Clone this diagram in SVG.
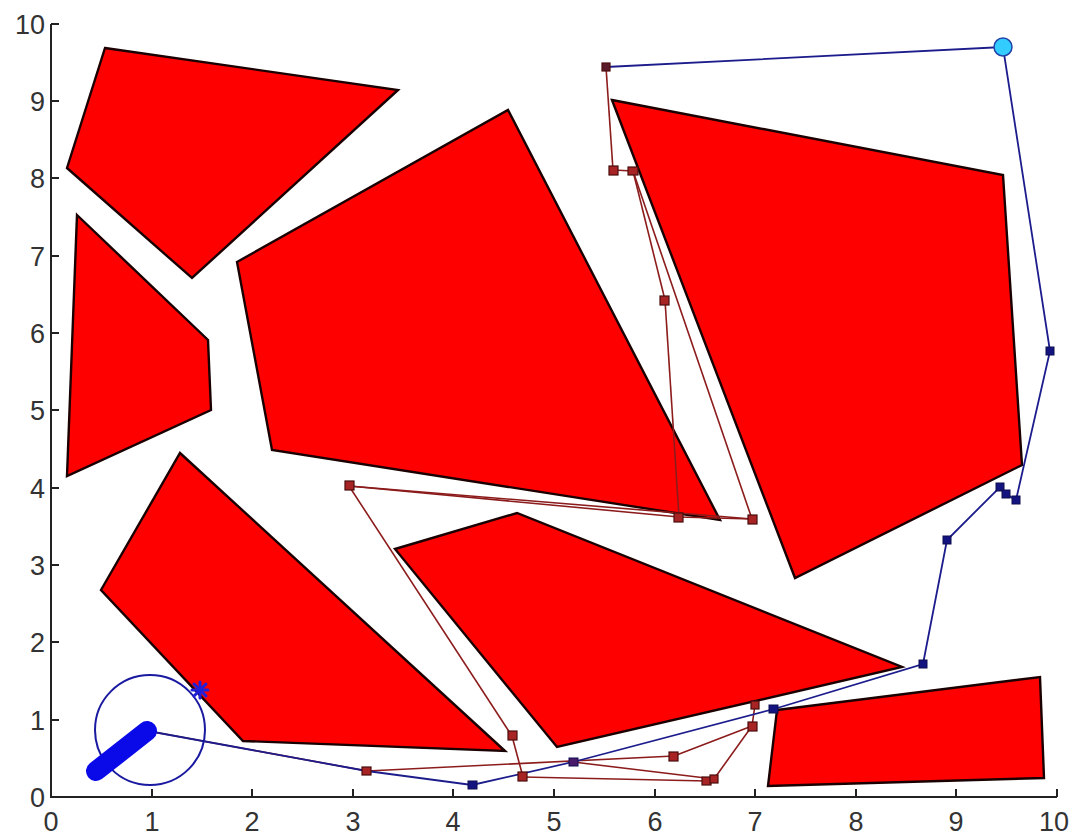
<svg xmlns="http://www.w3.org/2000/svg" width="1081" height="836" viewBox="0 0 1081 836">
<style>
.obs{fill:#ff0000;stroke:#1a0000;stroke-width:2.4;stroke-linejoin:miter}
.ax{stroke:#222;stroke-width:2;fill:none}
.tk{stroke:#222;stroke-width:2}
.lbl{font-family:"Liberation Sans",Arial,sans-serif;font-size:27px;fill:#333}
.red{stroke:#8c1c1c;stroke-width:1.6;fill:none}
.blue{stroke:#1c1c8c;stroke-width:1.8;fill:none}
.rn{fill:#a82424;stroke:#4a0c0c;stroke-width:1.2}
.bn{fill:#141480;stroke:#0c0c50;stroke-width:1}
</style>
<rect width="1081" height="836" fill="#ffffff"/>
<g id="axes">
<path class="ax" d="M51,24 V797 H1057"/>
<g class="tk">
<line x1="51" y1="24" x2="59" y2="24"/><line x1="51" y1="101" x2="59" y2="101"/><line x1="51" y1="178" x2="59" y2="178"/><line x1="51" y1="256" x2="59" y2="256"/><line x1="51" y1="333" x2="59" y2="333"/><line x1="51" y1="410" x2="59" y2="410"/><line x1="51" y1="488" x2="59" y2="488"/><line x1="51" y1="565" x2="59" y2="565"/><line x1="51" y1="642" x2="59" y2="642"/><line x1="51" y1="720" x2="59" y2="720"/>
<line x1="152" y1="797" x2="152" y2="789"/><line x1="252" y1="797" x2="252" y2="789"/><line x1="353" y1="797" x2="353" y2="789"/><line x1="453" y1="797" x2="453" y2="789"/><line x1="554" y1="797" x2="554" y2="789"/><line x1="655" y1="797" x2="655" y2="789"/><line x1="755" y1="797" x2="755" y2="789"/><line x1="856" y1="797" x2="856" y2="789"/><line x1="956" y1="797" x2="956" y2="789"/><line x1="1057" y1="797" x2="1057" y2="789"/>
</g>
<g class="lbl" text-anchor="end">
<text x="45" y="34">10</text><text x="45" y="111">9</text><text x="45" y="188">8</text><text x="45" y="266">7</text><text x="45" y="343">6</text><text x="45" y="420">5</text><text x="45" y="498">4</text><text x="45" y="575">3</text><text x="45" y="652">2</text><text x="45" y="730">1</text><text x="45" y="807">0</text>
</g>
<g class="lbl" text-anchor="middle">
<text x="51" y="831">0</text><text x="152" y="831">1</text><text x="252" y="831">2</text><text x="353" y="831">3</text><text x="453" y="831">4</text><text x="554" y="831">5</text><text x="655" y="831">6</text><text x="755" y="831">7</text><text x="856" y="831">8</text><text x="956" y="831">9</text><text x="1054" y="831">10</text>
</g>
</g>
<g id="obstacles">
<g id="obs1"><polygon class="obs" points="105,48 398,90 192,278 67,168"/></g>
<g id="obs2"><polygon class="obs" points="77,215 208,340 211,410 67,476"/></g>
<g id="obs3"><polygon class="obs" points="237,262 508,110 720,520 272,450"/></g>
<g id="obs4"><polygon class="obs" points="612,100 1003,175 1022,465 795,578"/></g>
<g id="obs5"><polygon class="obs" points="180,453 505,751 243,741 101,590"/></g>
<g id="obs6"><polygon class="obs" points="395,549 517,513 902,667 557,747"/></g>
<g id="obs7"><polygon class="obs" points="777,710 1040,677 1044,778 768,786"/></g>
</g>
<g id="connectors">
<g id="tree">
<line class="red" x1="148" y1="731" x2="367" y2="771"/>
<line class="red" x1="367" y1="771" x2="674" y2="756"/>
<line class="red" x1="674" y1="756" x2="752" y2="726"/>
<line class="red" x1="752" y1="726" x2="755" y2="705"/>
<line class="red" x1="714" y1="779" x2="752" y2="726"/>
<line class="red" x1="523" y1="777" x2="707" y2="781"/>
<line class="red" x1="573" y1="762" x2="714" y2="779"/>
<line class="red" x1="512" y1="736" x2="523" y2="777"/>
<line class="red" x1="349" y1="486" x2="512" y2="736"/>
<line class="red" x1="349" y1="486" x2="679" y2="517"/>
<line class="red" x1="679" y1="517" x2="752" y2="519"/>
<line class="red" x1="349" y1="486" x2="752" y2="519"/>
<line class="red" x1="752" y1="519" x2="633" y2="171"/>
<line class="red" x1="665" y1="300" x2="679" y2="517"/>
<line class="red" x1="633" y1="171" x2="665" y2="300"/>
<line class="red" x1="613" y1="170" x2="633" y2="171"/>
<line class="red" x1="606" y1="67" x2="613" y2="170"/>
</g>
<g id="path">
<polyline class="blue" points="148,731 367,771 472,785 573,762 774,709 923,664 947,540 1000,487 1006,494 1016,500 1050,351 1003,47 606,67"/>
</g>
</g>
<g id="nodes">
<g id="n-A"><rect class="rn" x="602" y="63" width="8" height="8" style="fill:#5a1a2a"/></g>
<g id="n-B"><rect class="rn" x="609" y="166" width="9" height="9"/></g>
<g id="n-C"><rect class="rn" x="628" y="167" width="10" height="8"/></g>
<g id="n-D"><rect class="rn" x="660" y="296" width="9" height="9"/></g>
<g id="n-E"><rect class="rn" x="345" y="481" width="9" height="9"/></g>
<g id="n-F"><rect class="rn" x="674" y="513" width="9" height="9"/></g>
<g id="n-G"><rect class="rn" x="748" y="515" width="9" height="9"/></g>
<g id="n-H"><rect class="rn" x="508" y="731" width="9" height="9"/></g>
<g id="n-I"><rect class="rn" x="518" y="772" width="9" height="9"/></g>
<g id="n-J"><rect class="rn" x="362" y="767" width="9" height="8"/></g>
<g id="n-K"><rect class="rn" x="669" y="752" width="9" height="9"/></g>
<g id="n-L1"><rect class="rn" x="702" y="777" width="9" height="8"/></g>
<g id="n-L2"><rect class="rn" x="710" y="775" width="8" height="8"/></g>
<g id="n-M"><rect class="rn" x="748" y="722" width="9" height="9"/></g>
<g id="n-N"><rect class="rn" x="751" y="701" width="8" height="8"/></g>
<g id="n-Q1"><rect class="bn" x="468" y="781" width="9" height="8"/></g>
<g id="n-Q2"><rect class="bn" x="569" y="758" width="9" height="8" style="fill:#4a1a6a"/></g>
<g id="n-Q3"><rect class="bn" x="769" y="705" width="9" height="8"/></g>
<g id="n-Q4"><rect class="bn" x="919" y="660" width="8" height="8"/></g>
<g id="n-Q5"><rect class="bn" x="943" y="536" width="8" height="8"/></g>
<g id="n-Q6"><rect class="bn" x="996" y="483" width="8" height="8"/></g>
<g id="n-Q7"><rect class="bn" x="1002" y="490" width="8" height="8"/></g>
<g id="n-Q8"><rect class="bn" x="1012" y="496" width="8" height="8"/></g>
<g id="n-Q9"><rect class="bn" x="1046" y="347" width="8" height="8"/></g>
<g id="start">
<circle cx="150" cy="730" r="55" fill="none" stroke="#1a1aa0" stroke-width="2"/>
<line x1="96" y1="771" x2="147" y2="731" stroke="#0a0ae8" stroke-width="20" stroke-linecap="round"/>
<g stroke="#2020d8" stroke-width="3" stroke-linecap="round">
<line x1="192" y1="690" x2="208" y2="690"/><line x1="200" y1="682" x2="200" y2="698"/><line x1="194" y1="684" x2="206" y2="696"/><line x1="194" y1="696" x2="206" y2="684"/>
</g>
</g>
<g id="goal"><circle cx="1003" cy="47" r="9" fill="#33ccff" stroke="#2244aa" stroke-width="1.5"/></g>
</g>
</svg>
